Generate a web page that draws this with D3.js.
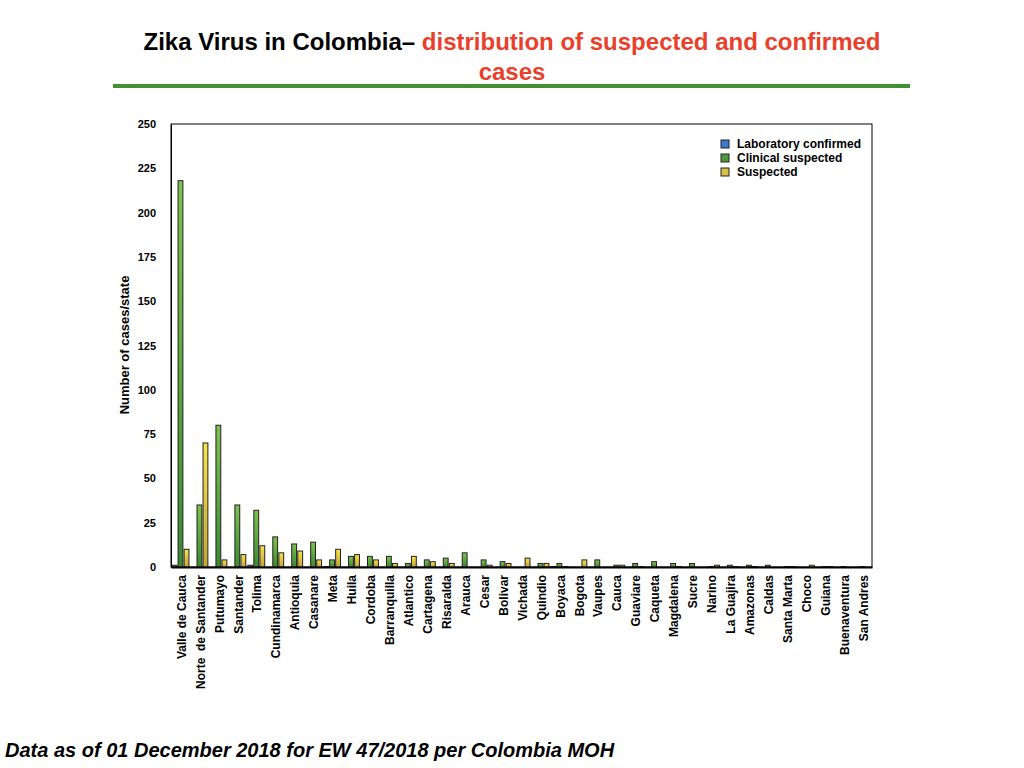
<!DOCTYPE html>
<html lang="en">
  <head>
    <meta charset="utf-8">
    <title>Zika Virus in Colombia</title>
    <script type="text/javascript" src="https://d3js.org/d3.v7.min.js"></script>
    <style>
      body { margin: 0; background: #fff; }
      text { font-family: "Liberation Sans", Arial, Helvetica, sans-serif; }
    </style>
  </head>
  <body>
    <script type="text/javascript">
    var w = 1024;
    var h = 768;

    // data
    var states = ["Valle de Cauca", "Norte  de Santander", "Putumayo", "Santander", "Tolima",
      "Cundinamarca", "Antioquia", "Casanare", "Meta", "Huila", "Cordoba", "Barranquilla",
      "Atlantico", "Cartagena", "Risaralda", "Arauca", "Cesar", "Bolivar", "Vichada", "Quindio",
      "Boyaca", "Bogota", "Vaupes", "Cauca", "Guaviare", "Caqueta", "Magdalena", "Sucre",
      "Narino", "La Guajira", "Amazonas", "Caldas", "Santa Marta", "Choco", "Guiana",
      "Buenaventura", "San Andres"];
    var labConfirmed = [1, null, null, null, 1, null, null, null, 0, null, null, null,
      null, null, null, null, null, null, null, null,
      0, null, null, null, null, null, null, null,
      null, null, null, null, null, null, null, null, null];
    var clinicalSuspected = [218, 35, 80, 35, 32, 17, 13, 14, 4, 6, 6, 6,
      2, 4, 5, 8, 4, 3, null, 2,
      2, null, 4, 1, 2, 3, 2, 2,
      0, 1, 1, 1, 0, null, 0, 0, 0];
    var suspected = [10, 70, 4, 7, 12, 8, 9, 4, 10, 7, 4, 2,
      6, 3, 2, null, 1, 2, 5, 2,
      0, 4, null, 1, 0, null, 0, null,
      1, 0, 0, null, 0, 1, 0, null, null];
    var seriesNames = ["Laboratory confirmed", "Clinical suspected", "Suspected"];
    var yTicks = [0, 25, 50, 75, 100, 125, 150, 175, 200, 225, 250];

    var seriesData = [labConfirmed, clinicalSuspected, suspected];
    var gradTop = ["#6f9ee6", "#7fc24e", "#f7e44c"];
    var gradBottom = ["#2e5fae", "#3a8a32", "#c4a437"];
    var legendFill = ["#3b78d4", "#4c9a3c", "#dcc043"];

    var plotLeft = 171, plotRight = 872, plotTop = 124, plotBottom = 567;

    var svg = d3.select("body").append("svg").attr("width", w).attr("height", h);

    var defs = svg.append("defs");
    seriesNames.forEach(function(s, i) {
      var g = defs.append("linearGradient").attr("id", "grad" + i)
        .attr("x1", 0).attr("y1", 0).attr("x2", 0).attr("y2", 1);
      g.append("stop").attr("offset", "0%").attr("stop-color", gradTop[i]);
      g.append("stop").attr("offset", "100%").attr("stop-color", gradBottom[i]);
    });

    // title
    var title = svg.append("text")
      .attr("x", 512).attr("y", 50)
      .attr("text-anchor", "middle")
      .attr("font-size", 24).attr("font-weight", "bold");
    title.append("tspan").attr("fill", "#000").text("Zika Virus in Colombia\u2013 ");
    title.append("tspan").attr("fill", "#e8402a").text("distribution of suspected and confirmed");
    svg.append("text")
      .attr("x", 512).attr("y", 80)
      .attr("text-anchor", "middle")
      .attr("font-size", 24).attr("font-weight", "bold")
      .attr("fill", "#e8402a")
      .text("cases");
    svg.append("rect")
      .attr("x", 113).attr("y", 84).attr("width", 797).attr("height", 4)
      .attr("fill", "#3f922f");

    var xscale = d3.scaleBand().domain(states).range([plotLeft, plotRight]);
    var xinner = d3.scaleBand().domain([0, 1, 2]).range([1, xscale.bandwidth() - 1]).paddingInner(0.2);
    var yscale = d3.scaleLinear().domain([0, 250]).range([plotBottom, plotTop]);

    // frame
    svg.append("rect")
      .attr("x", plotLeft).attr("y", plotTop)
      .attr("width", plotRight - plotLeft).attr("height", plotBottom - plotTop)
      .attr("fill", "none").attr("stroke", "#000").attr("stroke-width", 1);

    // bars (a zero still shows as a flat outline, like the slide)
    seriesData.forEach(function(vals, si) {
      var rows = [];
      vals.forEach(function(v, i) {
        if (v !== null) rows.push({ state: states[i], value: v });
      });
      svg.append("g").selectAll("rect")
        .data(rows)
        .enter()
        .append("rect")
        .attr("x", function(d) { return xscale(d.state) + xinner(si); })
        .attr("y", function(d) { return d.value == 0 ? yscale(0) - 0.5 : yscale(d.value); })
        .attr("width", xinner.bandwidth())
        .attr("height", function(d) { return Math.max(yscale(0) - yscale(d.value), 0.5); })
        .attr("fill", "url(#grad" + si + ")")
        .attr("stroke", "#222")
        .attr("stroke-width", 1);
    });

    // axes
    var yAxis = d3.axisLeft(yscale).tickValues(yTicks).tickSize(0).tickPadding(15);
    var ya = svg.append("g").attr("transform", "translate(" + plotLeft + ",0)").call(yAxis);
    ya.select(".domain").attr("stroke", "#000");
    ya.selectAll("text")
      .attr("font-family", "'Liberation Sans', Arial, sans-serif")
      .attr("font-size", 11).attr("font-weight", "bold").attr("fill", "#000");

    var xAxis = d3.axisBottom(xscale).tickSize(0).tickPadding(0);
    var xa = svg.append("g").attr("transform", "translate(0," + plotBottom + ")").call(xAxis);
    xa.select(".domain").attr("stroke", "#000").attr("stroke-width", 2);
    xa.selectAll("text")
      .attr("font-family", "'Liberation Sans', Arial, sans-serif")
      .attr("font-size", 12).attr("font-weight", "bold").attr("fill", "#000")
      .attr("text-anchor", "end")
      .attr("dy", "0.35em")
      .attr("transform", "translate(1,8) rotate(-90)")
      .attr("x", 0).attr("y", 0)
      .style("white-space", "pre");

    svg.append("text")
      .attr("transform", "translate(129,345) rotate(-90)")
      .attr("text-anchor", "middle")
      .attr("font-size", 13).attr("font-weight", "bold")
      .text("Number of cases/state");

    // legend
    var lg = svg.append("g").attr("transform", "translate(721,144)");
    seriesNames.forEach(function(s, i) {
      lg.append("rect")
        .attr("x", 0).attr("y", i * 14 - 4)
        .attr("width", 8).attr("height", 8)
        .attr("fill", legendFill[i]).attr("stroke", "#222").attr("stroke-width", 1);
      lg.append("text")
        .attr("x", 16).attr("y", i * 14 + 4)
        .attr("font-size", 12).attr("font-weight", "bold")
        .text(s);
    });

    // footnote
    svg.append("text")
      .attr("x", 5).attr("y", 757)
      .attr("font-size", 20).attr("font-weight", "bold").attr("font-style", "italic")
      .text("Data as of 01 December 2018 for EW 47/2018 per Colombia MOH");
    </script>
  </body>
</html>
